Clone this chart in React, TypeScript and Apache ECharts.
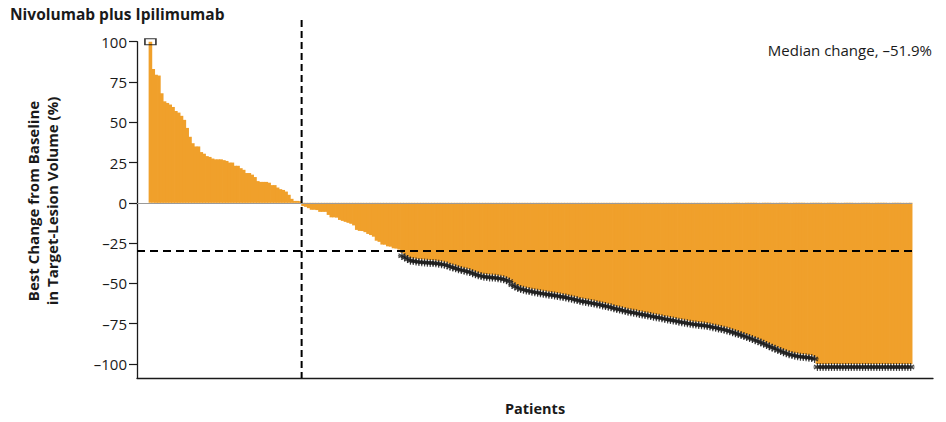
import React, { useEffect, useRef } from "react";
import * as echarts from "echarts";

// Best change from baseline (%) per patient, sorted descending
const positiveValues = [
  100, 83, 79.5, 79, 68, 63, 62, 61, 59.5, 57, 56, 54, 51.5, 46.5, 41, 37, 35, 35,
  31.5, 30.5, 29, 28.5, 27.5, 27, 27, 27, 26.5, 26, 25, 25, 23, 23, 21.5, 20.5,
  18.5, 18.5, 17.5, 16, 13.5, 13, 13, 13, 12.5, 11, 11, 9.5, 8.5, 8, 7, 5, 2.5,
  1.2, 1.2, 1.0,
];
const minorReductionValues = [
  -2, -2.5, -3.3, -4.3, -4.3, -4.5, -5.6, -5.6, -5.6, -7.5, -9, -9, -9.2, -10.6,
  -11.2, -11.8, -12.4, -13, -14, -16.8, -17.4, -17.5, -18.2, -19.3, -20, -21,
  -23.5, -24.2, -25.9, -26, -27, -27.2, -28.2, -28.4, -29,
];
// patients marked with an asterisk (objective response)
const responderValues = [
  -31, -32, -33, -34, -34.3, -34.6, -34.8, -35, -35.1, -35.3, -35.4, -35.5, -35.7,
  -36, -36.2, -36.5, -37, -37.8, -38.2, -38.8, -39.4, -39.8, -40.3, -40.7, -41.1,
  -41.8, -42.5, -43.1, -43.6, -44, -44.2, -44.4, -44.5, -44.7, -45, -45.2, -45.6,
  -46.2, -47, -49, -50, -51, -51.6, -52.1, -52.5, -52.9, -53.3, -53.6, -53.9,
  -54.2, -54.5, -54.8, -55.1, -55.4, -55.6, -55.9, -56.2, -56.5, -56.9, -57.3,
  -57.7, -58.1, -58.5, -59, -59.3, -59.6, -60, -60.3, -60.6, -61, -61.4, -61.8,
  -62.2, -62.6, -63, -63.5, -64, -64.4, -64.8, -65.2, -65.7, -66.1, -66.4, -66.7,
  -67.1, -67.4, -67.8, -68.1, -68.4, -68.8, -69.1, -69.4, -69.8, -70.2, -70.5,
  -70.9, -71.2, -71.5, -71.9, -72.2, -72.5, -72.9, -73.2, -73.5, -73.7, -73.9,
  -74.1, -74.3, -74.6, -74.9, -75.3, -75.7, -76.1, -76.5, -76.9, -77.3, -77.8,
  -78.4, -79, -79.6, -80.2, -80.8, -81.4, -82, -82.7, -83.4, -84, -84.8, -85.6,
  -86.4, -87.2, -88, -88.7, -89.4, -90.1, -90.8, -91.5, -92.1, -92.6, -93, -93.3,
  -93.6, -93.8, -94, -94.3, -94.5, -95,
  -100, -100, -100, -100, -100, -100, -100, -100, -100, -100, -100, -100, -100,
  -100, -100, -100, -100, -100, -100, -100, -100, -100, -100, -100, -100, -100,
  -100, -100, -100, -100, -100, -100, -100, -100,
];
// indices of bars truncated at the top of the axis
const truncatedIndices = [0];

const yTicks = [-100, -75, -50, -25, 0, 25, 50, 75, 100];
const responseThreshold = -30;
const medianLabel = "Median change, \u201351.9%";

const Y_MIN = -108.7;
const Y_MAX = 100;
const X_MIN = -4.75;
const X_MAX = 276.9;

const BAR_COLOR = "#F0A02B";
const INK = "#1a1a1a";
const FONT = "'Open Sans', Lato, sans-serif";

export default function App() {
  const ref = useRef<HTMLDivElement>(null);

  useEffect(() => {
    const el = ref.current;
    if (!el) return;
    const chart = echarts.init(el, null, { renderer: "svg" });

    const allValues = [...positiveValues, ...minorReductionValues, ...responderValues];
    const barData = allValues.map((v, i) => [i, v]);
    const firstResponder = positiveValues.length + minorReductionValues.length;
    const asteriskData = responderValues.map((v, k) => [firstResponder + k, v]);
    const boxData = truncatedIndices.map((i) => [i, Y_MAX]);
    const splitX = positiveValues.length - 0.5;
    const lastEdge = allValues.length - 0.5;

    const fmt = (v: number) => (v < 0 ? "\u2013" + Math.abs(v) : String(v));

    chart.setOption({
      animation: false,
      grid: {
        left: 137,
        right: 13,
        top: 41.7,
        bottom: 44,
        containLabel: false,
        outerBoundsMode: "none",
      },
      xAxis: {
        type: "value",
        min: X_MIN,
        max: X_MAX,
        axisLine: { show: true, onZero: false, lineStyle: { color: INK, width: 1.3 } },
        axisTick: { show: false },
        axisLabel: { show: false },
        splitLine: { show: false },
      },
      yAxis: {
        type: "value",
        min: Y_MIN,
        max: Y_MAX,
        axisLine: { show: true, onZero: false, lineStyle: { color: INK, width: 1.3 } },
        axisTick: {
          show: true,
          length: 8,
          customValues: yTicks,
          lineStyle: { color: INK, width: 1.2 },
        },
        axisLabel: {
          show: true,
          customValues: yTicks,
          formatter: fmt,
          margin: 10,
          color: INK,
          fontFamily: FONT,
          fontSize: 15,
        },
        splitLine: { show: false },
      },
      series: [
        {
          type: "bar",
          data: barData,
          barWidth: 3.6,
          barGap: "-100%",
          itemStyle: { color: BAR_COLOR },
          silent: true,
          markLine: {
            silent: true,
            symbol: "none",
            label: { show: false },
            lineStyle: { color: "#9a9a9a", width: 1.2, type: "solid" },
            data: [[{ coord: [X_MIN, 0] }, { coord: [lastEdge, 0] }]],
          },
        },
        {
          type: "scatter",
          data: asteriskData,
          symbol:
            "path://M0,-5L0,5M-4.33,-2.5L4.33,2.5M-4.33,2.5L4.33,-2.5M-5,0L5,0",
          symbolSize: 8,
          symbolOffset: [0, 3],
          itemStyle: { color: "transparent", borderColor: INK, borderWidth: 1.2 },
          silent: true,
          z: 3,
          markLine: {
            silent: true,
            symbol: "none",
            label: { show: false },
            lineStyle: { color: "#000", width: 2, type: [8, 5] },
            data: [
              [
                { coord: [X_MIN, responseThreshold] },
                { coord: [lastEdge, responseThreshold] },
              ],
            ],
          },
        },
        {
          type: "scatter",
          data: boxData,
          symbol: "rect",
          symbolSize: [11, 6],
          itemStyle: { color: "transparent", borderColor: "#000", borderWidth: 1.2 },
          silent: true,
          z: 4,
        },
      ],
    });

    const [sx, yBottom] = chart.convertToPixel({ gridIndex: 0 }, [splitX, Y_MIN]);

    const textStyle = (text: string, font: string, align: string, vAlign: string) => ({
      text,
      font,
      fill: INK,
      align,
      verticalAlign: vAlign,
      textAlign: align,
      textVerticalAlign: vAlign,
    });

    chart.setOption({
      graphic: [
        {
          type: "text",
          x: 10,
          y: 14,
          style: textStyle("Nivolumab plus Ipilimumab", `bold 15.5px ${FONT}`, "left", "middle"),
        },
        {
          type: "text",
          x: 932,
          y: 50,
          style: textStyle(medianLabel, `15px ${FONT}`, "right", "middle"),
        },
        {
          type: "text",
          x: 535,
          y: 408,
          style: textStyle("Patients", `bold 14.5px ${FONT}`, "center", "middle"),
        },
        {
          type: "text",
          x: 33,
          y: 201,
          rotation: Math.PI / 2,
          style: textStyle("Best Change from Baseline", `bold 15px ${FONT}`, "center", "middle"),
        },
        {
          type: "text",
          x: 52,
          y: 201,
          rotation: Math.PI / 2,
          style: textStyle("in Target-Lesion Volume (%)", `bold 15px ${FONT}`, "center", "middle"),
        },
        {
          type: "line",
          z: 10,
          shape: { x1: sx, y1: 20, x2: sx, y2: yBottom },
          style: { stroke: "#000", lineWidth: 2, lineDash: [7, 4] },
        },
      ],
    });

    return () => chart.dispose();
  }, []);

  return (
    <div
      ref={ref}
      style={{ position: "fixed", left: 0, top: 0, width: 946, height: 422, background: "#fff" }}
    />
  );
}
